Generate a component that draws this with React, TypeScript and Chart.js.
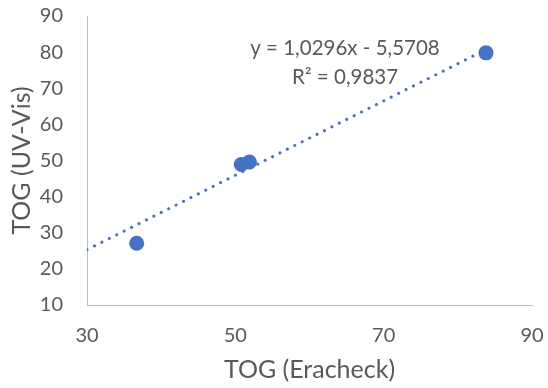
import React, { useEffect, useRef } from "react";
import { Chart, registerables } from "chart.js";

Chart.register(...registerables);

// Data
const eracheck = [36.7, 50.8, 51.9, 83.8];
const uvVis = [27.1, 48.9, 49.6, 79.8];

// Trendline as reported on the chart
const slope = 1.0296;
const intercept = -5.5708;
const equationLabel = "y = 1,0296x - 5,5708";
const r2Label = "R² = 0,9837";

const xTitle = "TOG (Eracheck)";
const yTitle = "TOG (UV-Vis)";
const xMin = 30;
const xMax = 90;
const xStep = 20;
const yMin = 10;
const yMax = 90;
const yStep = 10;

const BLUE = "#4472C4";
const TEXT = "#595959";
const AXIS = "#BFBFBF";
const FONT = "Lato, 'Open Sans', sans-serif";

export default function App() {
  const ref = useRef<HTMLCanvasElement | null>(null);

  useEffect(() => {
    if (!ref.current) return;
    const points = eracheck.map((x, i) => ({ x, y: uvVis[i] }));
    const tx0 = xMin;
    const tx1 = Math.max(...eracheck);
    const trend = [
      { x: tx0, y: slope * tx0 + intercept },
      { x: tx1, y: slope * tx1 + intercept },
    ];

    const labelPlugin = {
      id: "eqLabel",
      afterDraw(chart: any) {
        const { ctx, chartArea } = chart;
        ctx.save();
        ctx.font = `20.5px ${FONT}`;
        ctx.fillStyle = TEXT;
        ctx.textAlign = "center";
        ctx.textBaseline = "middle";
        const cx = chartArea.left + 258;
        ctx.fillText(equationLabel, cx, chartArea.top + 32);
        ctx.fillText(r2Label, cx, chartArea.top + 61);
        ctx.restore();
      },
    };

    const chart = new Chart(ref.current, {
      type: "scatter",
      data: {
        datasets: [
          {
            label: "data",
            data: points,
            backgroundColor: BLUE,
            borderColor: BLUE,
            pointRadius: 7.5,
            pointHoverRadius: 7.5,
            borderWidth: 0,
            order: 2,
          },
          {
            label: "trend",
            type: "line",
            data: trend,
            showLine: true,
            borderColor: BLUE,
            borderWidth: 3,
            borderDash: [0.1, 8.2],
            borderCapStyle: "round",
            pointRadius: 0,
            fill: false,
            order: 1,
          } as any,
        ],
      },
      options: {
        responsive: false,
        animation: false,
        layout: { padding: { left: 0, right: 16, top: 16, bottom: 0 } },
        plugins: {
          legend: { display: false },
          tooltip: { enabled: false },
        },
        scales: {
          x: {
            type: "linear",
            min: xMin,
            max: xMax,
            afterFit(scale: any) {
              scale.height = 83;
              scale.paddingLeft = 0;
              scale.paddingRight = 0;
            },
            ticks: {
              stepSize: xStep,
              color: TEXT,
              font: { family: FONT, size: 20 },
              padding: 19,
            },
            grid: { display: false, drawTicks: false },
            border: { display: true, color: AXIS, width: 1 },
            title: {
              display: true,
              text: xTitle,
              color: TEXT,
              font: { family: FONT, size: 25 },
              padding: { top: 0, bottom: 3 },
            },
          },
          y: {
            type: "linear",
            min: yMin,
            max: yMax,
            afterFit(scale: any) {
              scale.width = 87;
              scale.paddingTop = 0;
              scale.paddingBottom = 0;
            },
            ticks: {
              stepSize: yStep,
              color: TEXT,
              font: { family: FONT, size: 20 },
              padding: 24,
            },
            grid: { display: false, drawTicks: false },
            border: { display: true, color: AXIS, width: 1 },
            title: {
              display: true,
              text: yTitle,
              color: TEXT,
              font: { family: FONT, size: 25 },
              padding: { top: 7, bottom: 0 },
            },
          },
        },
      },
      plugins: [labelPlugin],
    });

    return () => chart.destroy();
  }, []);

  return (
    <div style={{ position: "fixed", left: 0, top: 0, width: 548, height: 388, background: "#fff" }}>
      <canvas ref={ref} width={548} height={388} />
    </div>
  );
}
